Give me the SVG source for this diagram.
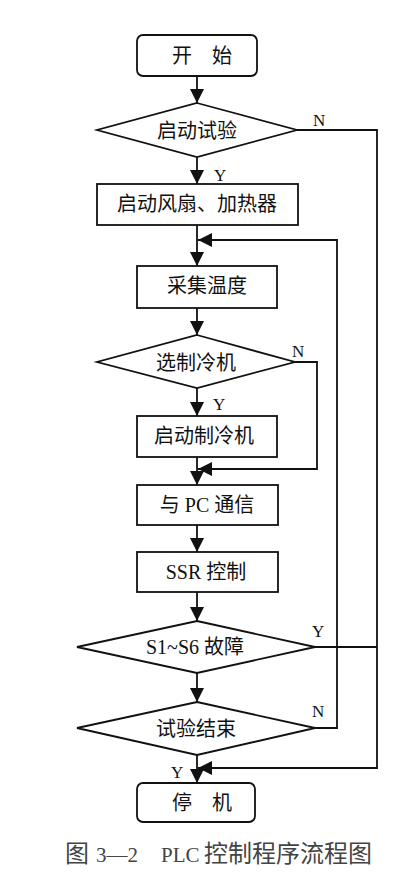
<svg xmlns="http://www.w3.org/2000/svg" width="410" height="880" viewBox="0 0 410 880">
<style>
.shape{fill:#fff;stroke:#111;stroke-width:1.8}
.line{fill:none;stroke:#111;stroke-width:1.8}
.t{font-family:"Liberation Serif","Noto Sans CJK SC",serif;font-size:20px;fill:#111;text-anchor:middle;dominant-baseline:central}
.lbl{font-family:"Liberation Serif","Noto Sans CJK SC",serif;font-size:17px;fill:#111}
.cap{font-family:"Liberation Serif","Noto Sans CJK SC",serif;font-size:24px;fill:#444}
.capl{font-size:21px}
</style>
<defs>
<marker id="ah" markerUnits="userSpaceOnUse" markerWidth="15" markerHeight="15" refX="14" refY="7" orient="auto">
<path d="M0,0 L14,7 L0,14 z" fill="#111"/>
</marker>
</defs>
<rect width="410" height="880" fill="#fff"/>
<g id="connectors">
<line class="line" x1="197" y1="76" x2="197" y2="103" marker-end="url(#ah)"/>
<line class="line" x1="197" y1="157" x2="197" y2="184" marker-end="url(#ah)"/>
<line class="line" x1="197" y1="225" x2="197" y2="266" marker-end="url(#ah)"/>
<line class="line" x1="197" y1="308" x2="197" y2="335" marker-end="url(#ah)"/>
<line class="line" x1="197" y1="388" x2="197" y2="416" marker-end="url(#ah)"/>
<line class="line" x1="197" y1="457" x2="197" y2="485" marker-end="url(#ah)"/>
<line class="line" x1="197" y1="525" x2="197" y2="552" marker-end="url(#ah)"/>
<line class="line" x1="197" y1="592" x2="197" y2="621" marker-end="url(#ah)"/>
<line class="line" x1="197" y1="673" x2="197" y2="702" marker-end="url(#ah)"/>
<line class="line" x1="197" y1="755" x2="197" y2="783" marker-end="url(#ah)"/>
<polyline class="line" points="297,130 377,130 377,768 198,768" marker-end="url(#ah)"/>
<polyline class="line" points="315,728 337,728 337,240 198,240" marker-end="url(#ah)"/>
<polyline class="line" points="295,362 317,362 317,469 198,469" marker-end="url(#ah)"/>
<line class="line" x1="315" y1="647" x2="377" y2="647"/>
<text class="lbl" x="313" y="126">N</text>
<text class="lbl" x="214" y="181">Y</text>
<text class="lbl" x="292" y="357">N</text>
<text class="lbl" x="213" y="410">Y</text>
<text class="lbl" x="312" y="637">Y</text>
<text class="lbl" x="312" y="717">N</text>
<text class="lbl" x="171" y="778">Y</text>
</g>
<g id="start"><rect class="shape" x="137" y="35" width="120" height="41" rx="6"/><text class="t" x="202" y="56">开　始</text></g>
<g id="d1"><polygon class="shape" points="197,103 297,130 197,157 97,130"/><text class="t" x="197" y="131">启动试验</text></g>
<g id="b2"><rect class="shape" x="97" y="184" width="201" height="41"/><text class="t" x="197" y="204">启动风扇、加热器</text></g>
<g id="b3"><rect class="shape" x="137" y="266" width="140" height="42"/><text class="t" x="207" y="286">采集温度</text></g>
<g id="d2"><polygon class="shape" points="197,335 295,362 197,388 97,362"/><text class="t" x="196" y="363">选制冷机</text></g>
<g id="b4"><rect class="shape" x="137" y="416" width="140" height="41"/><text class="t" x="204" y="436">启动制冷机</text></g>
<g id="b5"><rect class="shape" x="137" y="485" width="141" height="40"/><text class="t" x="207" y="505">与 PC 通信</text></g>
<g id="b6"><rect class="shape" x="137" y="552" width="141" height="40"/><text class="t" x="206" y="572">SSR 控制</text></g>
<g id="d3"><polygon class="shape" points="197,621 315,647 197,673 77,647"/><text class="t" x="195" y="647">S1~S6 故障</text></g>
<g id="d4"><polygon class="shape" points="197,702 315,728 197,755 77,728"/><text class="t" x="196" y="729">试验结束</text></g>
<g id="stop"><rect class="shape" x="137" y="783" width="118" height="39" rx="6"/><text class="t" x="202" y="803">停　机</text></g>
<text class="cap" y="862"><tspan x="65">图 </tspan><tspan x="96" class="capl">3—2 </tspan><tspan x="161" class="capl">PLC </tspan><tspan x="204">控制程序流程图</tspan></text>
</svg>
